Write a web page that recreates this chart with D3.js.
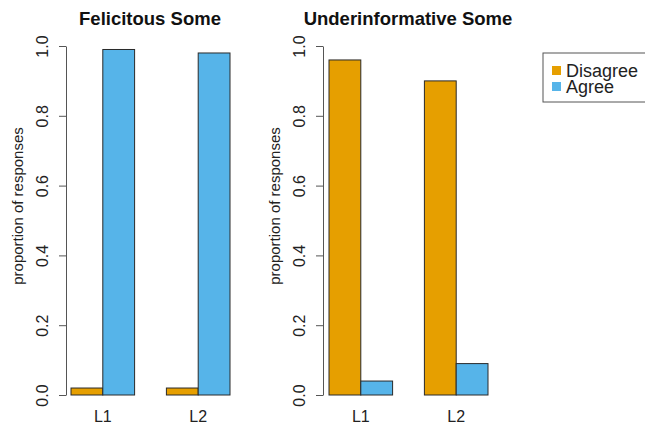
<!DOCTYPE html>
<html>
<head>
<meta charset="utf-8">
<script src="https://cdn.jsdelivr.net/npm/d3@7"></script>
<style>
  html, body { margin: 0; padding: 0; background: #fff; }
  svg { display: block; font-family: "Liberation Sans", Arial, Helvetica, sans-serif; }
</style>
</head>
<body>
<svg id="chart" width="645" height="426"></svg>
<script>
// ---- data ----
const categories = ["L1", "L2"];
const seriesNames = ["Disagree", "Agree"];
const seriesColors = ["#E69F00", "#56B4E9"];
const panelTitles = ["Felicitous Some", "Underinformative Some"];
const felicitousDisagree = [0.02, 0.02];
const felicitousAgree = [0.99, 0.98];
const underinfDisagree = [0.96, 0.90];
const underinfAgree = [0.04, 0.09];
const yTicks = [0, 0.2, 0.4, 0.6, 0.8, 1.0];
const yLabel = "proportion of responses";

const panels = [
  { title: panelTitles[0], values: [felicitousDisagree, felicitousAgree], axisX: 66, barLeft: 71, barRight: 230, titleX: 150 },
  { title: panelTitles[1], values: [underinfDisagree, underinfAgree], axisX: 323, barLeft: 329, barRight: 488, titleX: 408 }
];

const svg = d3.select("#chart");
svg.append("rect").attr("width", 645).attr("height", 426).attr("fill", "#fff");

const y = d3.scaleLinear().domain([0, 1]).range([395, 46]);

panels.forEach(p => {
  const g = svg.append("g");
  const x0 = d3.scaleBand().domain(categories).range([p.barLeft, p.barRight]).paddingInner(1 / 3).paddingOuter(0);
  const x1 = d3.scaleBand().domain(seriesNames).range([0, x0.bandwidth()]).padding(0);

  // bars
  categories.forEach((c, ci) => {
    seriesNames.forEach((s, si) => {
      const v = p.values[si][ci];
      g.append("rect")
        .attr("x", x0(c) + x1(s))
        .attr("y", y(v))
        .attr("width", x1.bandwidth())
        .attr("height", y(0) - y(v))
        .attr("fill", seriesColors[si])
        .attr("stroke", "#2a2a2a")
        .attr("stroke-width", 1);
    });
  });

  // y axis
  const axis = d3.axisLeft(y).tickValues(yTicks).tickFormat(d3.format(".1f")).tickSize(7).tickSizeOuter(0);
  const ag = g.append("g").attr("transform", `translate(${p.axisX},0)`).call(axis);
  ag.select(".domain").attr("stroke", "#555").attr("stroke-width", 1);
  ag.selectAll(".tick line").attr("stroke", "#555");
  ag.selectAll(".tick text")
    .attr("x", null).attr("dy", null)
    .attr("text-anchor", "middle")
    .attr("transform", "translate(-18,0) rotate(-90)")
    .attr("fill", "#222")
    .style("font-size", "16px")
    .style("font-family", "'Liberation Sans', Arial, sans-serif");

  // y label
  g.append("text")
    .attr("transform", `translate(${p.axisX - 43},206) rotate(-90)`)
    .attr("text-anchor", "middle")
    .attr("fill", "#222")
    .style("font-size", "15px")
    .text(yLabel);

  // x labels
  g.selectAll(".xlab").data(categories).enter().append("text")
    .attr("x", d => x0(d) + x0.bandwidth() / 2)
    .attr("y", 422)
    .attr("text-anchor", "middle")
    .attr("fill", "#222")
    .style("font-size", "16px")
    .text(d => d);

  // title
  g.append("text")
    .attr("x", p.titleX)
    .attr("y", 25)
    .attr("text-anchor", "middle")
    .attr("fill", "#111")
    .style("font-size", "18.5px")
    .style("font-weight", "bold")
    .text(p.title);
});

// legend
const lg = svg.append("g");
lg.append("rect").attr("x", 543).attr("y", 53).attr("width", 120).attr("height", 49)
  .attr("fill", "#fff").attr("stroke", "#555").attr("stroke-width", 1);
seriesNames.forEach((s, i) => {
  lg.append("rect").attr("x", 552).attr("y", 66 + i * 16).attr("width", 9).attr("height", 9)
    .attr("fill", seriesColors[i]);
  lg.append("text").attr("x", 566).attr("y", 77 + i * 16)
    .attr("fill", "#222").style("font-size", "18px").text(s);
});
</script>
</body>
</html>
